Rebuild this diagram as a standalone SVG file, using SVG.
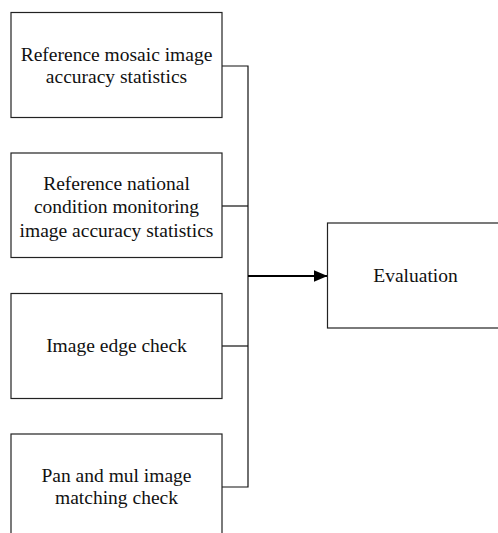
<svg xmlns="http://www.w3.org/2000/svg" width="498" height="533" viewBox="0 0 498 533">
<defs>
<style>
.box{fill:#fff;stroke:#222;stroke-width:1.2}
.t{font-family:"Liberation Serif","Times New Roman",serif;font-size:19.5px;fill:#111;text-anchor:middle}
.ln{fill:none;stroke:#111;stroke-width:1.2}
.ar{fill:none;stroke:#000;stroke-width:2.2}
</style>
<marker id="ah" markerWidth="14" markerHeight="12" refX="14" refY="6" orient="auto" markerUnits="userSpaceOnUse">
<path d="M0,0 L14,6 L0,12 Z" fill="#000"/>
</marker>
</defs>
<rect width="498" height="533" fill="#fff"/>
<g id="connectors">
<polyline class="ln" points="222,66 248,66 248,487 222,487"/>
<line class="ln" x1="222" y1="206" x2="248" y2="206"/>
<line class="ln" x1="222" y1="346" x2="248" y2="346"/>
<line class="ar" x1="248" y1="276" x2="327.5" y2="276" marker-end="url(#ah)"/>
</g>
<g id="n1">
<rect class="box" x="11" y="12.5" width="211" height="105"/>
<text class="t" x="116.5" y="61">Reference mosaic image</text>
<text class="t" x="116.5" y="83">accuracy statistics</text>
</g>
<g id="n2">
<rect class="box" x="11" y="153" width="211" height="104.5"/>
<text class="t" x="116.5" y="190">Reference national</text>
<text class="t" x="116.5" y="213">condition monitoring</text>
<text class="t" x="116.5" y="237">image accuracy statistics</text>
</g>
<g id="n3">
<rect class="box" x="11" y="293.5" width="211" height="105"/>
<text class="t" x="116.5" y="352">Image edge check</text>
</g>
<g id="n4">
<rect class="box" x="11" y="434" width="211" height="110"/>
<text class="t" x="116.5" y="482">Pan and mul image</text>
<text class="t" x="116.5" y="504">matching check</text>
</g>
<g id="n5">
<rect class="box" x="327.5" y="223" width="177" height="105"/>
<text class="t" x="415.5" y="282">Evaluation</text>
</g>
</svg>
